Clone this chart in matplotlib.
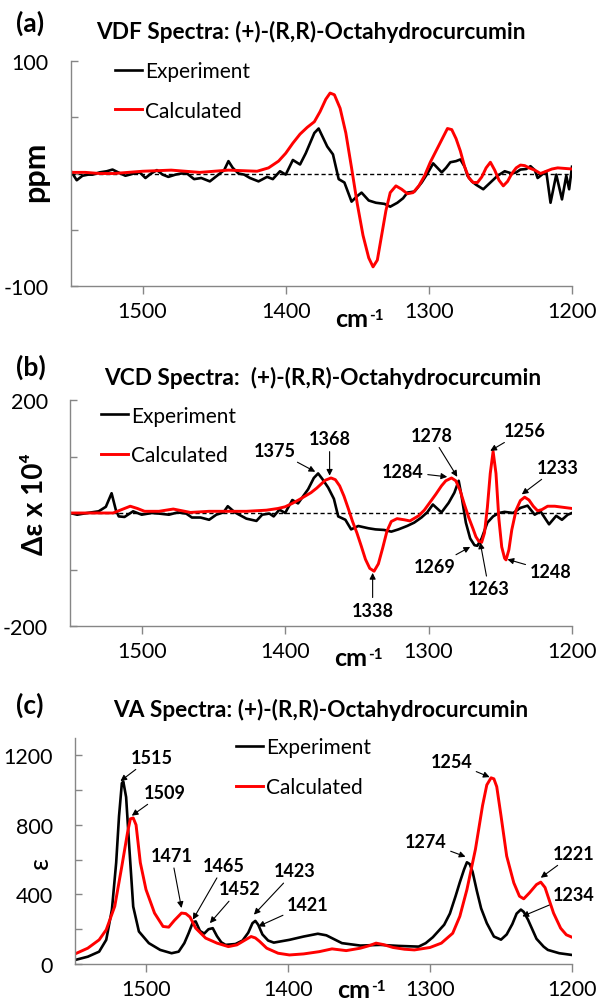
import matplotlib
matplotlib.use('Agg')
import matplotlib.pyplot as plt

plt.rcParams['font.family'] = ['Lato', 'DejaVu Sans']
plt.rcParams['axes.unicode_minus'] = False

# ---------------- (a) VDF ----------------
a_exp_x = [1550, 1546, 1542, 1538, 1535, 1530, 1525, 1521, 1517, 1512,
           1506, 1502, 1498, 1494, 1490, 1486, 1482, 1477, 1473, 1469,
           1464, 1459, 1453, 1448, 1443, 1440, 1437, 1433, 1429, 1425,
           1419, 1413, 1409, 1404, 1400, 1395, 1390, 1386, 1383, 1380,
           1377, 1374, 1371, 1367, 1363, 1359, 1354, 1350, 1347, 1342,
           1337, 1331, 1327, 1322, 1318, 1315, 1310, 1305, 1301, 1297,
           1294, 1291, 1288, 1285, 1281, 1278, 1275, 1273, 1270, 1267,
           1262, 1257, 1252, 1247, 1242, 1239, 1236, 1232, 1229, 1226,
           1224, 1220, 1218, 1215, 1211, 1207, 1204, 1202, 1200]
a_exp_y = [2, -6, -2, -1, -1, 1, 2, 3.5, 1, -2,
           0, 1, -4, 0, 3, -1, -3, -1, 0, 0,
           -5, -4, -7, -2, 3, 11, 5, 0, -1, -4,
           -7, -3, -5, 2, -1, 12, 8, 18, 27, 36,
           40, 32, 24, 17, -5, -8, -25, -20, -17, -24,
           -26, -27, -29.5, -26, -22, -17, -16, -8, 0, 9,
           5, 1, 5, 10, 11, 12.5, 6, -2, -7, -10,
           -14, -8, -2, 2, 0, 1, 3.5, 4, 6.5, 3,
           -4, 0, 2, -26, -1, -23, -2, -14, 6]

a_calc_x = [1550, 1540, 1530, 1520, 1510, 1500, 1490, 1480, 1470, 1460,
            1450, 1440, 1430, 1420, 1412, 1405, 1400, 1395, 1390, 1385,
            1380, 1376, 1372, 1369, 1366, 1362, 1358, 1354, 1350, 1346,
            1342, 1339, 1336, 1333, 1330, 1327, 1323, 1319, 1315, 1311,
            1307, 1303, 1299, 1295, 1291, 1287, 1284, 1281, 1278, 1275,
            1272, 1269, 1266, 1263, 1260, 1257, 1254, 1251, 1248, 1245,
            1242, 1239, 1236, 1233, 1230, 1226, 1222, 1218, 1214, 1210,
            1205, 1200]
a_calc_y = [1, 1, 0, 0, 1, 2, 2.5, 3, 2, 1,
            2, 3, 2.5, 2, 5, 11, 18, 27, 35, 41,
            46, 55, 66, 71.5, 70, 58, 36, 5, -27, -55,
            -75, -83, -77, -55, -33, -17, -11, -14, -18, -17,
            -11, -2, 10, 20, 30, 40, 39, 31, 20, 6,
            -4, -8, -8, -3, 5, 10, 3, -6, -11, -7,
            0, 5, 7.5, 7, 5, 3, 0, 2, 4, 5,
            4.5, 4]

# ---------------- (b) VCD ----------------
b_exp_x = [1550, 1545, 1538, 1530, 1525, 1521, 1518, 1516, 1512, 1506,
           1500, 1493, 1488, 1481, 1475, 1469, 1465, 1459, 1453, 1448,
           1443, 1440, 1435, 1427, 1420, 1416, 1411, 1408, 1404, 1400,
           1395, 1391, 1384, 1380, 1377, 1374, 1370, 1366, 1363, 1358,
           1354, 1349, 1342, 1337, 1331, 1326, 1321, 1315, 1310, 1305,
           1301, 1297, 1291, 1286, 1282, 1279, 1277, 1274, 1271, 1268,
           1266, 1263, 1259, 1255, 1251, 1247, 1241, 1236, 1231, 1226,
           1222, 1216, 1211, 1207, 1203, 1200]
b_exp_y = [0, -3, 0, 3, 11, 35, 5, -6, -7, 3,
           -3, 0, -1, -3, 1, -1, -8, -8, -12, -3,
           1, 12, 1, -10, -14, -3, -1, -6, 6, 0,
           23, 17, 42, 62, 70, 60, 45, 25, -6, -12,
           -29, -23, -27, -29, -30, -33, -29, -23, -17, -8,
           1, 15, 1, 18, 36, 57, 30, -17, -45, -57,
           -58, -45, -17, -6, 0, 2, 0, 9, 13, -3,
           3, -20, -5, -12, -3, 0]

b_calc_x = [1550, 1530, 1520, 1514, 1508, 1503, 1498, 1488, 1478, 1466,
            1453, 1440, 1427, 1413, 1405, 1400, 1395, 1390, 1386, 1382,
            1378, 1375, 1372, 1368, 1365, 1362, 1359, 1356, 1353, 1350,
            1347, 1344, 1341, 1338, 1335, 1332, 1329, 1326, 1322, 1317,
            1313, 1307, 1303, 1299, 1295, 1291, 1288, 1284, 1281, 1278,
            1275, 1272, 1269, 1267, 1265, 1263, 1261, 1259, 1257, 1255,
            1253, 1251, 1249, 1247, 1246, 1244, 1242, 1239, 1236, 1233,
            1230, 1227, 1224, 1221, 1217, 1212, 1206, 1200]
b_calc_y = [0, 0, 0, 6, 12, 8, 3, 3, 7, 1,
            3, 3, 3, 5, 8, 11, 17, 24, 30, 36,
            44, 51, 58, 62, 59, 48, 30, 8, -15, -35,
            -58, -82, -98, -103, -90, -62, -32, -15, -10, -12,
            -14, -5, 5, 19, 33, 48, 57, 62, 57, 40,
            15, -8, -28, -42, -50, -52, -35, 10, 70, 109,
            70, -10, -60, -80, -83, -65, -30, 5, 22, 28,
            23, 12, 4, 6, 12, 12, 10, 8]

# label, arrow tip x, tip y, text x, text y
b_notes = [('1375', 1379, 73, 1407, 111),
           ('1368', 1369, 66, 1369, 131),
           ('1338', 1339, -106, 1339, -172),
           ('1284', 1287, 64, 1318, 73),
           ('1278', 1280, 64, 1298, 138),
           ('1256', 1257, 110, 1233, 146),
           ('1233', 1235, 33, 1210, 81),
           ('1269', 1271, -60, 1296, -95),
           ('1263', 1264, -52, 1258, -134),
           ('1248', 1245, -82, 1215, -104)]

# ---------------- (c) VA ----------------
c_exp_x = [1550, 1541, 1533, 1528, 1524, 1521, 1519, 1517, 1516, 1514,
           1512, 1509, 1505, 1498, 1490, 1482, 1477, 1473, 1470, 1467,
           1465, 1462, 1459, 1456, 1453, 1450, 1447, 1444, 1437, 1432,
           1428, 1425, 1423, 1421, 1418, 1414, 1410, 1399, 1389, 1379,
           1373, 1362, 1349, 1335, 1322, 1308, 1303, 1298, 1290, 1286,
           1282, 1279, 1276, 1274, 1272, 1270, 1267, 1264, 1260, 1255,
           1250, 1246, 1242, 1239, 1236, 1234, 1231, 1228, 1225, 1220,
           1217, 1209, 1200]
c_exp_y = [23, 42, 71, 139, 313, 583, 850, 1040, 1050, 960,
           700, 330, 187, 120, 81, 62, 71, 120, 177, 240,
           245, 190, 175, 200, 206, 160, 125, 110, 115, 135,
           180, 235, 248, 226, 170, 135, 123, 139, 158, 174,
           165, 120, 106, 110, 104, 100, 120, 154, 226, 290,
           390, 470, 544, 585, 575, 530, 420, 320, 235, 158,
           140, 170, 230, 290, 313, 300, 255, 200, 145, 100,
           81, 62, 52]

c_calc_x = [1550, 1541, 1533, 1528, 1522, 1517, 1513, 1511, 1509, 1507,
            1504, 1500, 1494, 1488, 1484, 1480, 1475, 1472, 1469, 1465,
            1458, 1450, 1442, 1436, 1430, 1426, 1423, 1420, 1415, 1407,
            1399, 1389, 1378, 1369, 1359, 1349, 1343, 1338, 1333, 1326,
            1318, 1311, 1300, 1292, 1284, 1279, 1274, 1268, 1263, 1260,
            1257, 1255, 1253, 1250, 1246, 1241, 1237, 1234, 1230, 1225,
            1222, 1219, 1213, 1208, 1204, 1200]
c_calc_y = [58, 91, 139, 197, 332, 563, 756, 835, 840, 800,
            583, 428, 293, 216, 212, 251, 293, 290, 270, 206,
            149, 120, 100, 110, 139, 158, 150, 130, 91, 62,
            52, 58, 71, 87, 77, 91, 105, 120, 112, 95,
            85, 81, 95, 120, 177, 274, 428, 660, 911, 1030,
            1071, 1065, 1020, 853, 621, 467, 390, 375, 409, 457,
            471, 440, 293, 206, 168, 154]

c_notes = [('1515', 1518, 1052, 1496, 1189),
           ('1509', 1510, 853, 1487, 988),
           ('1471', 1475, 322, 1482, 625),
           ('1465', 1467, 255, 1445, 567),
           ('1452', 1455, 235, 1434, 432),
           ('1423', 1424, 284, 1395, 536),
           ('1421', 1421, 216, 1386, 345),
           ('1274', 1275, 617, 1303, 702),
           ('1254', 1258, 1075, 1285, 1166),
           ('1221', 1222, 496, 1198.5, 637),
           ('1234', 1235, 274, 1198.5, 399)]

x_ticks = [1500, 1400, 1300, 1200]
a_yticks = [-100, -50, 0, 50, 100]
a_ylabels = ['-100', '', '', '', '100']
b_yticks = [-200, -100, 0, 100, 200]
b_ylabels = ['-200', '', '', '', '200']
c_yticks = [0, 200, 400, 600, 800, 1000, 1200]
c_ylabels = ['0', '', '400', '', '800', '', '1200']

GREY = '#868686'
W, H = 596, 1003


def setup(ax, yticks, ylabels, ylim, cm_drop):
    ax.set_xlim(1550, 1200)
    ax.set_ylim(*ylim)
    ax.set_xticks(x_ticks)
    ax.set_xticklabels([str(t) for t in x_ticks])
    ax.set_yticks(yticks)
    ax.set_yticklabels(ylabels)
    for s in ['top', 'right']:
        ax.spines[s].set_visible(False)
    for s in ['left', 'bottom']:
        ax.spines[s].set_color(GREY)
        ax.spines[s].set_linewidth(1)
    ax.tick_params(axis='x', direction='out', length=6, width=1, color=GREY,
                   pad=4.5, labelsize=15.5)
    ax.tick_params(axis='y', direction='in', length=5, width=1, color=GREY,
                   pad=16, labelsize=15.5)
    # x axis title "cm-1" sits on the tick label row, between 1400 and 1300
    ax.annotate('cm', xy=(1342.5, 0), xycoords=('data', 'axes fraction'),
                xytext=(0, -cm_drop), textcoords='offset pixels', ha='right',
                va='baseline', fontsize=18, fontweight='bold', annotation_clip=False)
    ax.annotate('-1', xy=(1342.5, 0), xycoords=('data', 'axes fraction'),
                xytext=(1, -cm_drop + 7), textcoords='offset pixels', ha='left',
                va='baseline', fontsize=11, fontweight='bold', annotation_clip=False)


def legend(ax, x0, y0):
    ax.legend(loc='upper left', bbox_to_anchor=(x0, y0), frameon=False, fontsize=15,
              borderaxespad=0, borderpad=0, handlelength=1.3, handletextpad=0.15,
              labelspacing=0.95)


def notes(ax, items):
    for lab, tx, ty, lx, ly in items:
        ax.annotate(lab, xy=(tx, ty), xytext=(lx, ly), ha='center', va='center',
                    fontsize=13, fontweight='bold',
                    arrowprops=dict(arrowstyle='-|>', color='black', lw=0.8,
                                    shrinkA=1, shrinkB=0, mutation_scale=9))


fig = plt.figure(figsize=(W / 100, H / 100), dpi=100)

# (a)
ax1 = fig.add_axes([71 / W, 1 - 287 / H, 501 / W, 225 / H])
ax1.axhline(0, color='black', ls='--', lw=1, dashes=(3, 2))
ax1.plot(a_exp_x, a_exp_y, color='black', lw=1.9, label='Experiment')
ax1.plot(a_calc_x, a_calc_y, color='#ff0000', lw=2.1, label='Calculated')
setup(ax1, a_yticks, a_ylabels, (-100, 100), 40)
ax1.set_ylabel('ppm', fontsize=22, fontweight='bold', va='center')
ax1.yaxis.set_label_coords(-0.072, 0.51)
ax1.set_title('VDF Spectra: (+)-(R,R)-Octahydrocurcumin', fontsize=16.3, fontweight='bold',
              x=0.479, y=1.133, va='center', pad=0)
legend(ax1, 0.088, 1.0)

# (b)
ax2 = fig.add_axes([70 / W, 1 - 627 / H, 502 / W, 226 / H])
ax2.axhline(0, color='black', ls='--', lw=1, dashes=(3, 2))
ax2.plot(b_exp_x, b_exp_y, color='black', lw=1.9, label='Experiment')
ax2.plot(b_calc_x, b_calc_y, color='#ff0000', lw=2.1, label='Calculated')
setup(ax2, b_yticks, b_ylabels, (-200, 200), 39)
ax2.set_ylabel('Δε x 10⁴', fontsize=20, fontweight='bold', va='center')
ax2.yaxis.set_label_coords(-0.07, 0.544)
ax2.set_title('VCD Spectra:  (+)-(R,R)-Octahydrocurcumin', fontsize=16.3, fontweight='bold',
              x=0.503, y=1.102, va='center', pad=0)
legend(ax2, 0.062, 0.975)
notes(ax2, b_notes)

# (c)
ax3 = fig.add_axes([75 / W, 1 - 965 / H, 497 / W, 226 / H])
ax3.plot(c_exp_x, c_exp_y, color='black', lw=1.9, label='Experiment')
ax3.plot(c_calc_x, c_calc_y, color='#ff0000', lw=2.1, label='Calculated')
setup(ax3, c_yticks, c_ylabels, (0, 1300), 33)
ax3.set_ylabel('ε', fontsize=19, va='center')
ax3.yaxis.set_label_coords(-0.07, 0.451)
ax3.set_title('VA Spectra: (+)-(R,R)-Octahydrocurcumin', fontsize=16.3, fontweight='bold',
              x=0.494, y=1.128, va='center', pad=0)
legend(ax3, 0.324, 1.003)
notes(ax3, c_notes)

fig.text(16 / W, 1 - 23 / H, '(a)', fontsize=19, fontweight='bold', va='center')
fig.text(16 / W, 1 - 367 / H, '(b)', fontsize=19, fontweight='bold', va='center')
fig.text(16 / W, 1 - 705 / H, '(c)', fontsize=19, fontweight='bold', va='center')

fig.savefig('out.png', dpi=100)
